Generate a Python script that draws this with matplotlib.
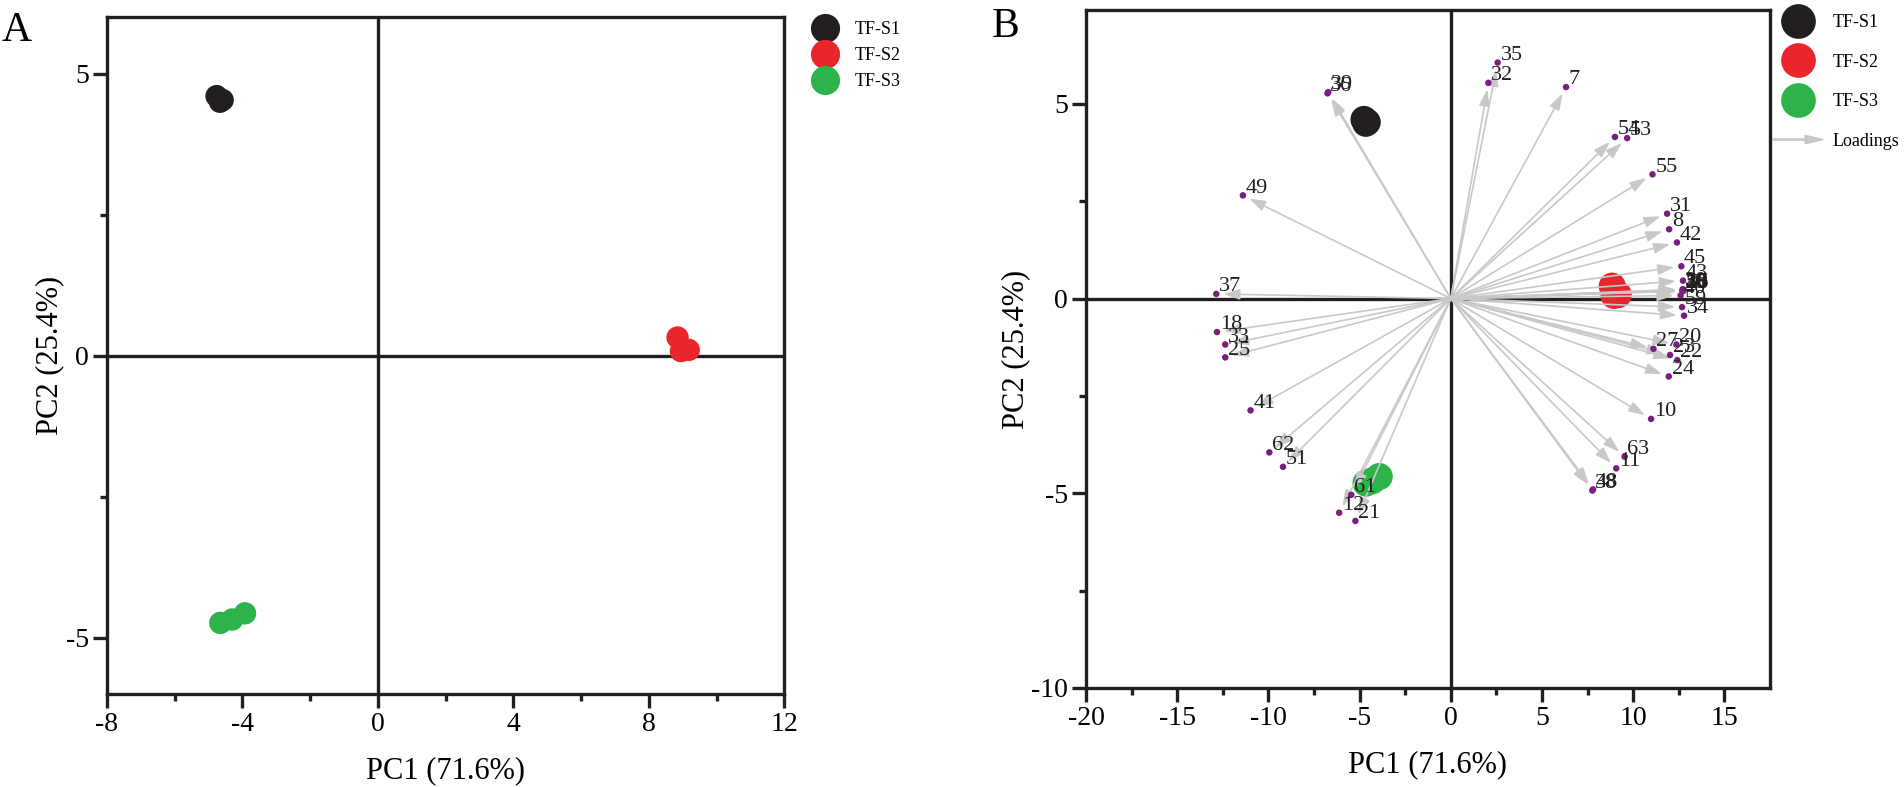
import matplotlib
matplotlib.use('Agg')
import matplotlib.pyplot as plt
import matplotlib.patches as mpatches
from matplotlib.lines import Line2D
from matplotlib.legend_handler import HandlerPatch

plt.rcParams['font.family'] = ['Liberation Serif', 'DejaVu Serif']
plt.rcParams['axes.unicode_minus'] = False

# ── data ─────────────────────────────────────────────────────────────────────
GROUPS = ['TF-S1', 'TF-S2', 'TF-S3']
COLORS = ['#231f20', '#e8262b', '#2db34a']

S1_PC1 = [-4.76, -4.66, -4.58]
S1_PC2 = [4.60, 4.50, 4.53]
S2_PC1 = [8.85, 8.95, 9.18]
S2_PC2 = [0.32, 0.08, 0.10]
S3_PC1 = [-4.65, -4.30, -3.92]
S3_PC2 = [-4.74, -4.68, -4.57]

LOAD_LABELS = ['35', '32', '7', '54', '53', '55', '31', '8', '42', '45', '43',
               '13', '15', '16', '26', '28', '30', '46', '50',
               '40', '59', '34',
               '27', '20', '23', '22', '24', '10', '63', '11', '38', '48',
               '61', '12', '21', '51', '62', '41', '25', '33', '18', '37',
               '49', '36', '39']
LOAD_PC1 = [2.57, 2.06, 6.32, 9.00, 9.67, 11.06, 11.86, 11.97, 12.40, 12.64, 12.73,
            12.72, 12.75, 12.70, 12.74, 12.76, 12.71, 12.73, 12.75,
            12.60, 12.68, 12.79,
            11.11, 12.37, 12.02, 12.42, 11.95, 10.98, 9.53, 9.07, 7.76, 7.80,
            -5.46, -6.12, -5.23, -9.20, -9.95, -10.98, -12.37, -12.37, -12.82, -12.86,
            -11.40, -6.76, -6.72]
LOAD_PC2 = [6.06, 5.54, 5.43, 4.15, 4.12, 3.19, 2.18, 1.78, 1.44, 0.83, 0.46,
            0.21, 0.23, 0.19, 0.22, 0.20, 0.24, 0.21, 0.22,
            0.08, -0.22, -0.44,
            -1.29, -1.18, -1.45, -1.58, -2.00, -3.09, -4.06, -4.36, -4.93, -4.90,
            -5.04, -5.50, -5.71, -4.32, -3.95, -2.87, -1.51, -1.18, -0.86, 0.12,
            2.65, 5.27, 5.30]

X_LABEL = 'PC1 (71.6%)'
Y_LABEL = 'PC2 (25.4%)'
# ─────────────────────────────────────────────────────────────────────────────

LINE = '#231f20'
LW = 2.4
GREY = '#c8c8c8'
PURPLE = '#7a1f7f'
ARROW_FRAC = 0.97

fig = plt.figure(figsize=(19.04, 7.87), dpi=100)
axA = fig.add_axes([0.0561, 0.1182, 0.3558, 0.860])
axB = fig.add_axes([0.5704, 0.1258, 0.3592, 0.861])


def style_axes(ax, xlim, ylim, xmaj, xmin, ymaj, ymin):
    ax.set_xlim(xlim)
    ax.set_ylim(ylim)
    for s in ax.spines.values():
        s.set_linewidth(LW)
        s.set_color(LINE)
    ax.axhline(0, color=LINE, lw=LW, zorder=1)
    ax.axvline(0, color=LINE, lw=LW, zorder=1)
    ax.set_xticks(xmaj)
    ax.set_xticks(xmin, minor=True)
    ax.set_yticks(ymaj)
    ax.set_yticks(ymin, minor=True)
    ax.tick_params(which='major', length=10, width=LW, direction='out',
                   labelsize=20, pad=3, color=LINE)
    ax.tick_params(which='minor', length=5, width=LW, direction='out', color=LINE)
    ax.tick_params(which='both', top=False, right=False)
    ax.set_xlabel(X_LABEL, fontsize=22, labelpad=14)
    ax.set_ylabel(Y_LABEL, fontsize=22, labelpad=1)


score_sets = [(S1_PC1, S1_PC2), (S2_PC1, S2_PC2), (S3_PC1, S3_PC2)]

# ── panel A ──
style_axes(axA, (-8, 12), (-6, 6), [-8, -4, 0, 4, 8, 12], [-6, -2, 2, 6, 10],
           [-5, 0, 5], [-2.5, 2.5])
for (px, py), c in zip(score_sets, COLORS):
    axA.scatter(px, py, s=260, color=c, edgecolors='none', zorder=3)

handlesA = [Line2D([], [], ls='none', marker='o', markersize=21, color=c,
                   markeredgewidth=0, label=g) for g, c in zip(GROUPS, COLORS)]
fig.legend(handles=handlesA, loc='upper left', bbox_to_anchor=(0.424, 0.973),
           frameon=False, fontsize=13, handlelength=2.0, handletextpad=0.6,
           labelspacing=0.5, borderpad=0, borderaxespad=0)

# ── panel B ──
style_axes(axB, (-20, 17.5), (-10, 7.4), [-20, -15, -10, -5, 0, 5, 10, 15],
           [-17.5, -12.5, -7.5, -2.5, 2.5, 7.5, 12.5], [-10, -5, 0, 5],
           [-7.5, -2.5, 2.5])
for (px, py), c in zip(score_sets, COLORS):
    axB.scatter(px, py, s=380, color=c, edgecolors='none', zorder=2)

for lab, x, y in zip(LOAD_LABELS, LOAD_PC1, LOAD_PC2):
    axB.annotate('', xy=(x * ARROW_FRAC, y * ARROW_FRAC), xytext=(0, 0),
                 arrowprops=dict(arrowstyle='-|>,head_length=0.55,head_width=0.18',
                                 color=GREY, lw=1.2, mutation_scale=18,
                                 shrinkA=0, shrinkB=0), zorder=3)
axB.scatter(LOAD_PC1, LOAD_PC2, s=22, color=PURPLE, edgecolors='none', zorder=4)
for lab, x, y in zip(LOAD_LABELS, LOAD_PC1, LOAD_PC2):
    axB.annotate(lab, xy=(x, y), xytext=(2, 2), textcoords='offset points',
                 fontsize=16, ha='left', va='baseline', color='#231f20', zorder=5)


def make_arrow(legend, orig_handle, xdescent, ydescent, width, height, fontsize):
    return mpatches.FancyArrow(-xdescent, height / 2 - ydescent, width, 0,
                               width=0.9, head_width=6, head_length=13,
                               length_includes_head=True, color=GREY)


handlesB = [Line2D([], [], ls='none', marker='o', markersize=25, color=c,
                   markeredgewidth=0, label=g) for g, c in zip(GROUPS, COLORS)]
arrow_handle = mpatches.FancyArrow(0, 0, 1, 0, color=GREY, label='Loadings')
handlesB.append(arrow_handle)
fig.legend(handles=handlesB, loc='upper left', bbox_to_anchor=(0.931, 0.982),
           frameon=False, fontsize=13, handlelength=2.8, handletextpad=0.5,
           labelspacing=1.25, borderpad=0, borderaxespad=0,
           handler_map={mpatches.FancyArrow: HandlerPatch(patch_func=make_arrow)})

fig.text(0.001, 0.985, 'A', fontsize=30, ha='left', va='top')
fig.text(0.521, 0.99, 'B', fontsize=30, ha='left', va='top')

fig.savefig('out.png', dpi=100)
